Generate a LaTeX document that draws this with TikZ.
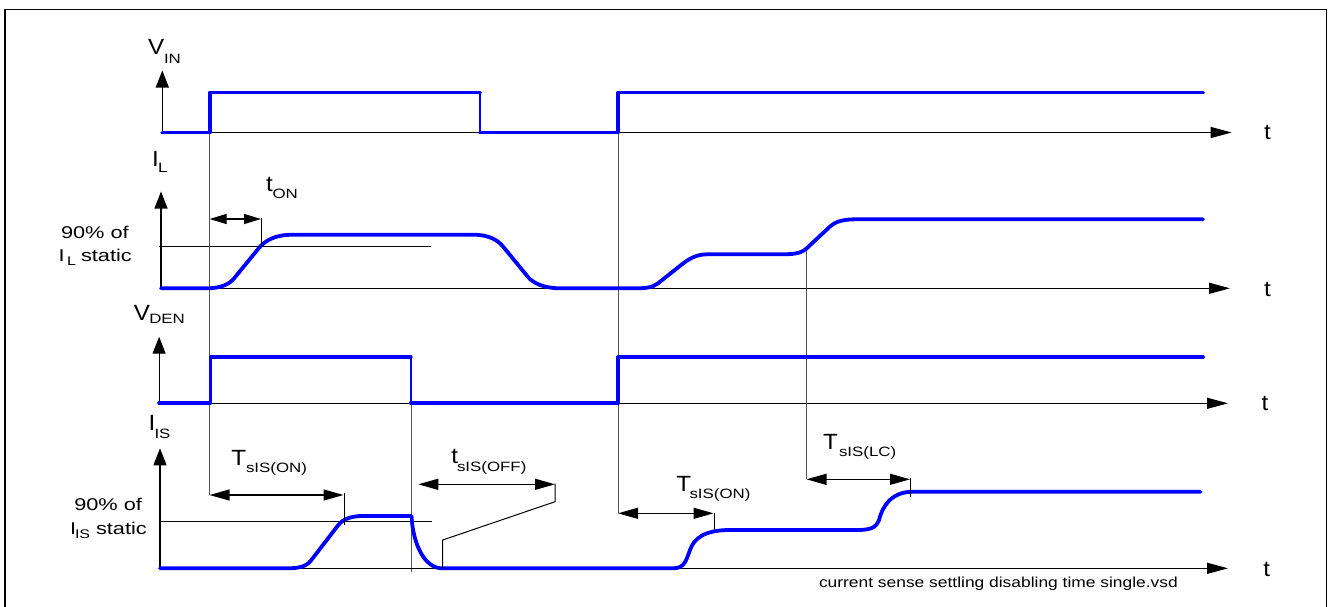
\documentclass[tikz,border=0pt]{standalone}
\usepackage{fontspec}
\setmainfont{Liberation Sans}
\usepackage{graphicx}
\usetikzlibrary{arrows.meta}
\definecolor{sigblue}{RGB}{0,0,255}
\definecolor{guidegray}{RGB}{85,85,85}
\newcommand{\lblmain}[1]{\scalebox{1.1}[1]{\fontsize{22}{22}\selectfont #1}}
\newcommand{\lblsub}[1]{\scalebox{1.25}[1]{\fontsize{13.5}{13.5}\selectfont #1}}
\newcommand{\lblmid}[1]{\scalebox{1.28}[1]{\fontsize{17}{17}\selectfont #1}}
\newcommand{\lblmidsub}[1]{\scalebox{1.28}[1]{\fontsize{12.5}{12.5}\selectfont #1}}
\newcommand{\lblfile}[1]{\scalebox{1.2}[1]{\fontsize{14.5}{14.5}\selectfont #1}}
\begin{document}
\begin{tikzpicture}[x=1pt,y=-1pt,
  txt/.style={inner sep=0pt, outer sep=0pt, anchor=base west},
  tlbl/.style={inner sep=0pt, outer sep=0pt, anchor=base},
  taxis/.style={line width=1.2pt, draw=black, -{Triangle[length=21pt,width=11pt]}},
  yaxis/.style={line width=1.2pt, draw=black, -{Triangle[length=17pt,width=13pt]}},
  dimarrow/.style={line width=1.2pt, draw=black, {Triangle[length=20pt,width=11pt]}-{Triangle[length=20pt,width=11pt]}},
  smalldim/.style={line width=1.2pt, draw=black, {Triangle[length=17pt,width=10pt]}-{Triangle[length=17pt,width=10pt]}},
  refline/.style={line width=1pt, draw=black},
  guide/.style={line width=1pt, draw=guidegray},
  sig/.style={draw=sigblue, line width=3.8pt, line cap=round, line join=round},
  sigthin/.style={draw=sigblue, line width=1.8pt}]
\useasboundingbox (0,0) rectangle (1329,606);
\draw[line width=1.2pt] (5,9.5) rectangle (1326.5,612);

% ---------- coordinates ----------
\coordinate (o1) at (162.3,132.5);
\coordinate (o2) at (161,288.3);
\coordinate (o3) at (159.1,403.3);
\coordinate (o4) at (160,568.3);

% ---------- guide lines ----------
\coordinate (gA1) at (209.5,132.5);  \coordinate (gA2) at (209.5,495);
\coordinate (gB1) at (618,132.5);    \coordinate (gB2) at (618,513.3);
\coordinate (gC1) at (411,357.3);    \coordinate (gC2) at (411,571.7);
\coordinate (gD1) at (806.5,249);    \coordinate (gD2) at (806.5,479.3);
\draw[guide] (gA1) -- (gA2);
\draw[guide] (gB1) -- (gB2);
\draw[guide] (gC1) -- (gC2);
\draw[guide] (gD1) -- (gD2);

% ---------- axes ----------
\draw[yaxis] (o1) -- (162.3,70.5);
\draw[taxis] (o1) -- (1231.7,132.5);
\draw[yaxis] (o2) -- (161,191.5);
\draw[taxis] (o2) -- (1230,288.3);
\draw[yaxis] (o3) -- (159.1,336.7);
\draw[taxis] (o3) -- (1228,403.3);
\draw[yaxis] (o4) -- (160,448.3);
\draw[taxis] (o4) -- (1228,568.3);

% ---------- 90% reference lines ----------
\draw[refline] (159,246.3) -- (431,246.3);
\draw[refline] (160,521) -- (431.5,521);

% ---------- signals ----------
\draw[sig] (o1) -- (209.8,132.5) -- (209.8,92.5) -- (480,92.5);
\draw[sigthin] (480,92.5) -- (480,132.5);
\draw[sig] (480,132.5) -- (618,132.5) -- (618,92.5) -- (1203,92.5);

\draw[sig] (o2) -- (207,288.3) .. controls (220,288.3) and (229,284.6) .. (234,278.5)
  -- (258.5,248.5) .. controls (264,241.8) and (273,234.7) .. (293,234.7)
  -- (473.5,234.7) .. controls (489,234.7) and (498,240.4) .. (503,246.5)
  -- (528,277) .. controls (533,283.1) and (544,288.3) .. (560,288.3)
  -- (633,288.3) .. controls (645,288.3) and (652,288) .. (658,283.3)
  -- (682,264.3) .. controls (688,259.5) and (696,254.3) .. (707,254.3)
  -- (780,254.3) .. controls (792,254.3) and (800.5,254) .. (806.5,248.5)
  -- (830,226.5) .. controls (835,221.8) and (843,219.3) .. (855,219.3)
  -- (1203,219.3);

\draw[sig] (o3) -- (210.4,403.3) -- (210.4,357.3) -- (410.8,357.3);
\draw[sigthin] (410.8,357.3) -- (410.8,403.3);
\draw[sig] (410.8,403.3) -- (618,403.3) -- (618,357.3) -- (1203,357.3);

\draw[sig] (o4) -- (286.7,568.3) .. controls (298,568.3) and (306,567) .. (311,560.5)
  -- (338.3,525) .. controls (343,518.9) and (352,516) .. (362,516)
  -- (411.5,516) .. controls (413,545) and (425,568.3) .. (442,568.3)
  -- (673,568.3) .. controls (685,568.3) and (686,560) .. (690,550)
  .. controls (694,538) and (705,530) .. (730,530)
  -- (856.7,530) .. controls (870,530) and (876,528) .. (879,520)
  .. controls (882,508) and (890,491.7) .. (913,491.7)
  -- (1200.4,491.7);

% ---------- ticks ----------
\draw[refline] (261,218.3) -- (261,246.7);
\draw[refline] (344.3,493.3) -- (344.3,525);
\draw[refline] (555,483.5) -- (555,501.7) -- (442.7,540) -- (442.7,568.3);
\draw[refline] (714,512.5) -- (714,530);
\draw[refline] (910.7,478.3) -- (910.7,497.3);

% ---------- dimension arrows ----------
\draw[smalldim] (209.6,219) -- (261,219);
\draw[dimarrow] (gA2) -- (343.5,495);
\draw[dimarrow] (418.3,484.3) -- (555,484.3);
\draw[dimarrow] (gB2) -- (713.5,513.3);
\draw[dimarrow] (gD2) -- (910,479.3);

% ---------- labels ----------
\node[txt] (vin) at (148,54.3) {\lblmain{V}};
\node[txt] (vins) at (164,63.3) {\lblsub{IN}};
\node[txt] (il) at (152,166.5) {\lblmain{I}};
\node[txt] (ils) at (158,172.7) {\lblsub{L}};
\node[txt] (ton) at (266,191.7) {\lblmain{t}};
\node[txt] (tons) at (272.5,198.3) {\lblsub{ON}};
\node[txt] (vden) at (133.8,320) {\lblmain{V}};
\node[txt] (vdens) at (149.3,323.3) {\lblsub{DEN}};
\node[txt] (iis) at (148.5,430.7) {\lblmain{I}};
\node[txt] (iiss) at (154.5,438.3) {\lblsub{IS}};

\node[txt] (ts1) at (231.3,465) {\lblmain{T}};
\node[txt] (ts1s) at (246,472.5) {\lblsub{sIS(ON)}};
\node[txt] (toff) at (451.3,463.3) {\lblmain{t}};
\node[txt] (toffs) at (457,471) {\lblsub{sIS(OFF)}};
\node[txt] (ts2) at (676.3,491.7) {\lblmain{T}};
\node[txt] (ts2s) at (689.5,498) {\lblsub{sIS(ON)}};
\node[txt] (tlc) at (823,449.3) {\lblmain{T}};
\node[txt] (tlcs) at (839,456) {\lblsub{sIS(LC)}};

\node[tlbl] (t1) at (1267.5,139.5) {\lblmain{t}};
\node[tlbl] (t2) at (1267.5,296) {\lblmain{t}};
\node[tlbl] (t3) at (1265,410.5) {\lblmain{t}};
\node[tlbl] (t4) at (1266.8,576.5) {\lblmain{t}};

\node[txt] (p1a) at (61,238.3) {\lblmid{90\% of}};
\node[txt] (p1b) at (58.5,261) {\lblmid{I}};
\node[txt] (p1c) at (67,265) {\lblmidsub{L}};
\node[txt] (p1d) at (81,261) {\lblmid{static}};

\node[txt] (p2a) at (74.3,510) {\lblmid{90\% of}};
\node[txt] (p2b) at (70.2,534) {\lblmid{I}};
\node[txt] (p2c) at (75,538.3) {\lblmidsub{IS}};
\node[txt] (p2d) at (96,534) {\lblmid{static}};

\node[txt] (fname) at (819,587) {\lblfile{current sense settling disabling time single.vsd}};
\end{tikzpicture}
\end{document}
